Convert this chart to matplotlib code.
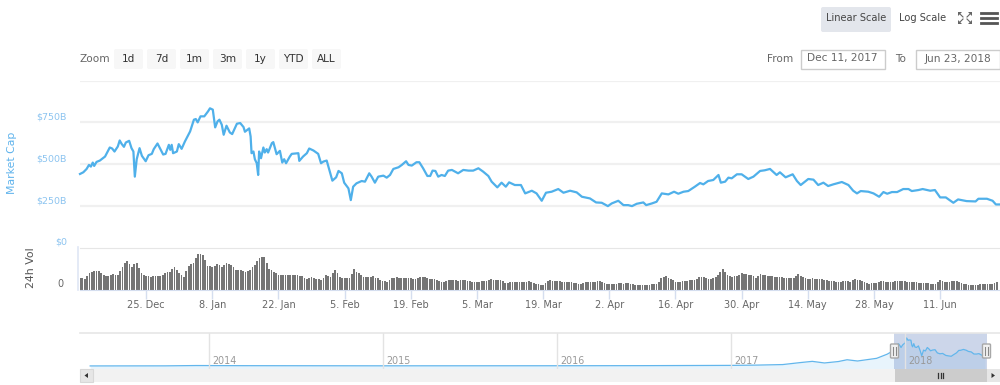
import numpy as np
import matplotlib
matplotlib.use("Agg")
import matplotlib.pyplot as plt
from matplotlib.patches import FancyBboxPatch, Rectangle, Polygon

W, H = 1000, 385

# market cap, $B, day = days since 11 Dec 2017
mcap_day = [0, .7, 1.4, 1.9, 2.3, 2.7, 3.0, 3.5, 4.2, 5.3, 6.3, 6.8, 7.3, 8.0, 8.4, 8.8, 9.3, 9.7, 10.4, 10.9,
            11.3, 11.6, 12.0, 12.6, 13.1, 13.9, 14.5, 15.2, 15.6, 16.4, 17.1, 17.6, 18.1, 18.8, 19.1, 19.4, 19.7,
            20.5, 20.9, 21.5, 22.2, 23.3, 24.1, 24.5, 24.9, 25.5, 26.3, 27.1, 27.5, 28.1, 28.6, 29.1, 29.5, 30.0,
            30.4, 31.0, 31.7, 32.2, 33.2, 33.9, 34.6, 34.9, 35.8, 36.1, 36.3, 36.7, 37.0, 37.4, 37.7, 37.9, 38.3,
            38.8, 39.1, 39.5, 39.8, 40.6, 40.9, 41.6, 42.3, 42.8, 43.2, 43.6, 44.4, 44.8, 46.2, 46.4, 47.2, 48.0,
            48.5, 49.4, 50.4, 51.0, 51.5, 52.2, 53.4, 54.2, 54.7, 55.4, 55.9, 56.8, 57.3, 57.8, 58.5, 59.6, 60.3,
            61.2, 61.7, 62.4, 63.1, 64.2, 64.9, 65.6, 66.3, 67.4, 68.1, 69.0, 69.5, 70.2, 71.2, 71.8, 72.6, 73.5,
            74.1, 74.6, 75.2, 75.8, 76.5, 77.2, 77.9, 78.7, 80.0, 81.1, 82.2, 83.2, 84.3, 85.3, 86.4, 87.1, 88.3,
            89.2, 90.1, 90.8, 92.0, 93.3, 94.2, 95.6, 96.6, 97.7, 98.6, 99.8, 101.2, 102.3, 103.7, 105.1, 106.2,
            107.9, 109.2, 110.4, 111.7, 112.5, 113.9, 115.0, 116.0, 116.8, 117.8, 119.2, 119.8, 121.0, 122.0,
            123.1, 124.5, 125.7, 126.6, 127.7, 128.7, 130.1, 131.2, 131.9, 132.9, 134.0, 135.1, 135.6, 136.5,
            137.2, 137.9, 139.0, 140.0, 141.4, 142.5, 143.9, 144.9, 146.0, 147.4, 148.1, 149.3, 150.8, 151.7,
            152.5, 153.2, 154.1, 155.2, 156.2, 157.3, 158.3, 159.4, 161.2, 162.6, 163.6, 164.4, 165.2, 166.8,
            167.9, 169.1, 170.0, 170.8, 171.8, 172.9, 174.2, 175.3, 176.0, 177.4, 178.3, 179.9, 180.9, 182.0,
            183.2, 184.8, 185.8, 187.6, 189.5, 190.1, 191.9, 193.1, 193.8, 194.5]
mcap_val = [442, 452, 472, 496, 486, 510, 490, 514, 522, 546, 600, 594, 576, 606, 642, 622, 604, 630, 640, 596,
            576, 426, 530, 596, 550, 518, 554, 562, 590, 624, 586, 558, 562, 616, 586, 616, 566,
            576, 620, 592, 636, 696, 766, 770, 750, 786, 786, 816, 834, 826, 720, 756, 766, 736,
            676, 730, 690, 680, 742, 746, 722, 694, 714, 666, 566, 576, 530, 506, 436, 576, 536,
            600, 570, 590, 570, 626, 632, 560, 580, 510, 530, 506, 546, 562, 566, 520, 546, 566,
            594, 582, 562, 506, 516, 522, 402, 422, 460, 446, 390, 356, 286, 366, 386, 400, 396,
            446, 426, 390, 426, 432, 420, 436, 472, 482, 496, 518, 496, 492, 512, 512, 476, 430,
            430, 462, 460, 426, 436, 430, 462, 466, 446, 466, 462, 462, 476, 456, 430, 396, 362,
            390, 366, 392, 376, 376, 326, 342, 326, 282, 330, 336, 352, 330, 342, 332, 306,
            296, 272, 270, 250, 266, 282, 256, 256, 250, 264, 272, 256, 266, 276,
            326, 320, 336, 324, 336, 340, 366, 388, 380, 400, 406, 436, 390, 396,
            420, 416, 440, 440, 412, 426, 460, 464, 472, 436, 452, 422, 440, 400,
            376, 392, 412, 408, 376, 390, 370, 380, 394, 376, 342, 326, 340, 336,
            326, 306, 334, 324, 334, 334, 352, 352, 340, 346, 352, 342, 346, 302,
            302, 270, 290, 280, 278, 294, 294, 282, 260, 260]

# 24h volume, $B, read every half day
volume = [20.7, 19.5, 18.5, 23, 28, 31, 32, 32, 32, 28, 25, 24, 23.5, 25, 27, 26, 25, 32, 39, 45, 49, 44, 39, 43,
          46, 37, 29, 26, 23.5, 23, 22.4, 23, 24, 24, 23.5, 26, 28, 30, 31, 35, 38, 33, 28, 25, 22.4, 32, 41, 44,
          45, 54, 60, 60, 58, 50, 41, 40, 39, 41, 44, 42, 39, 42, 46, 44, 42, 38, 34, 34, 34, 32, 30, 32, 34, 38,
          42, 48, 53, 55, 55, 46, 36, 33, 31, 28, 26, 25, 25, 25, 26, 26, 26, 25, 25, 24, 24, 21, 18, 20, 22, 20,
          18.5, 18, 17, 21, 26, 24, 22, 28, 33.6, 28, 22.4, 21, 19.6, 20, 19.6, 27, 34.7, 31, 28, 25, 22.4, 22,
          21.3, 22, 23.5, 21, 19.6, 17, 15.1, 14.5, 14, 17, 19.6, 21, 22.4, 21, 19.6, 20, 19.6, 20, 20.7, 19,
          17.9, 20, 21.3, 21.5, 21.8, 20, 18.5, 18, 17.9, 16.5, 15.1, 14, 12.9, 15, 16.8, 16.5, 16.2, 16, 15.7, 16,
          16.8, 16, 15.7, 15, 14, 13.5, 12.9, 14, 15.1, 15, 15.1, 16.5, 17.9, 17, 16.8, 17, 16.8, 14.5, 12.3, 12.5,
          12.9, 13, 12.9, 13, 12.9, 13, 12.9, 14, 15.1, 13, 11.2, 10, 9.5, 9, 9, 12, 15.7, 16, 15.7, 15.5,
          15.1, 14.5, 14, 13.5, 12.9, 13.5, 14, 12.5, 11.2, 10.5, 10.1, 11.5, 12.9, 13, 12.9, 13.5, 14, 14.5, 15.1, 13,
          11.2, 10, 9.5, 9.5, 9.5, 10.5, 11.2, 11, 10.6, 11, 11.2, 10, 9.5, 9, 8.4, 8, 7.8, 8, 8.4, 9,
          9.5, 9.5, 9.5, 14, 19.6, 22, 23.5, 21, 18.5, 16, 14, 14, 14, 14.5, 15.1, 15.5, 16.2, 16.5, 16.8, 19,
          21.3, 21.3, 21.3, 19.5, 17.9, 19, 19.6, 22, 25.2, 30, 34.7, 30, 25.2, 24, 22.4, 23, 23.5, 26, 28, 27,
          26.3, 26, 25.2, 23, 20.7, 24, 26.9, 26, 25.2, 24, 23.5, 23, 22.4, 22.4, 22.4, 21.5, 20.7, 20.7, 20.7, 20,
          19.6, 23, 26.3, 24, 22.4, 20, 18.5, 19, 19.6, 19, 18.5, 18, 17.9, 17, 16.2, 15.5, 15.1, 14.5, 14, 14,
          14, 14.5, 15.1, 14.5, 14, 16, 17.9, 17, 16.8, 15, 12.9, 11.5, 10.6, 11, 11.2, 12.5, 14, 14.5, 15.1, 14,
          12.9, 13.5, 14, 14.5, 15.1, 15, 15.1, 14.5, 14, 13.5, 12.9, 12.9, 12.9, 12, 11.2, 11.2, 11.2, 11, 10.6, 10,
          9.5, 13, 16.8, 15, 12.9, 13.5, 14, 14.5, 15.1, 14.5, 14, 12, 10.6, 9.5, 8.4, 8, 7.8, 8, 8.4, 9.5,
          10.6, 10.6, 10.6, 10, 9.5, 11, 12.9]

tick_days = [14, 28, 42, 56, 70, 84, 98, 112, 126, 140, 154, 168, 182]
tick_labels = ["25. Dec", "8. Jan", "22. Jan", "5. Feb", "19. Feb", "5. Mar", "19. Mar", "2. Apr",
               "16. Apr", "30. Apr", "14. May", "28. May", "11. Jun"]
cap_ticks = [250, 500, 750]
cap_tick_labels = ["$250B", "$500B", "$750B"]

# navigator history before the selected range
hist_year = [2013.32, 2013.75, 2013.93, 2014.2, 2015.0, 2016.0, 2016.5, 2017.0, 2017.15, 2017.3, 2017.4, 2017.47,
             2017.54, 2017.62, 2017.67, 2017.73, 2017.84, 2017.9, 2017.94]
hist_val = [2, 4, 13, 9, 5, 7, 10, 17, 25, 40, 95, 130, 85, 125, 175, 140, 215, 330, 440]
nav_years = [2014, 2015, 2016, 2017, 2018]

zoom_labels = ["1d", "7d", "1m", "3m", "1y", "YTD", "ALL"]

BLUE = "#4fb0ea"
LABEL_BLUE = "#8cc4f0"
GRID = "#f0f0f0"
TXT = "#666666"
FS = 7.6
TICK_FS = 7.0

plt.rcParams["font.family"] = ["DejaVu Sans"]
fig = plt.figure(figsize=(W / 100, H / 100), dpi=100, facecolor="white")


def px_axes(left, top, right, bottom):
    ax = fig.add_axes([left / W, 1 - bottom / H, (right - left) / W, (bottom - top) / H])
    ax.patch.set_alpha(0)
    for s in ax.spines.values():
        s.set_visible(False)
    return ax


# page furniture, in pixels
ui = px_axes(0, 0, W, H)
ui.set_xlim(0, W)
ui.set_ylim(H, 0)
ui.axis("off")


def button(x0, y0, x1, y1, fc, ec="none"):
    ui.add_patch(FancyBboxPatch((x0 + 2, y0 + 2), x1 - x0 - 4, y1 - y0 - 4, boxstyle="round,pad=2",
                                fc=fc, ec=ec, lw=0))


button(821, 7, 891, 32, "#e3e6ec")
ui.text(856, 18, "Linear Scale", ha="center", va="center", fontsize=7.1, color="#444444")
ui.text(922.5, 18, "Log Scale", ha="center", va="center", fontsize=7.1, color="#444444")

# fullscreen icon
for cx, cy, sx, sy in [(958, 12, 1, 1), (972, 12, -1, 1), (958, 24, 1, -1), (972, 24, -1, -1)]:
    ui.add_patch(Polygon([(cx, cy), (cx + 4 * sx, cy), (cx, cy + 4 * sy)], fc="#666666", ec="none"))
    ui.plot([cx + sx, cx + 5 * sx], [cy + sy, cy + 5 * sy], color="#666666", lw=0.8)
for y in [12.5, 17.5, 22.5]:
    ui.plot([981, 997], [y, y], color="#555555", lw=2)

ui.text(80, 59, "Zoom", ha="left", va="center", fontsize=FS, color=TXT)
for i, lab in enumerate(zoom_labels):
    x0 = 114 + 33 * i
    button(x0, 49, x0 + 29, 69, "#f7f7f7")
    ui.text(x0 + 14.5, 58.5, lab, ha="center", va="center", fontsize=FS, color="#333333")

ui.text(767, 58.5, "From", ha="left", va="center", fontsize=FS, color=TXT)
ui.text(895, 58.5, "To", ha="left", va="center", fontsize=FS, color=TXT)
for x0, x1, lab in [(800.5, 884.5, "Dec 11, 2017"), (915.5, 999.5, "Jun 23, 2018")]:
    ui.add_patch(Rectangle((x0, 49.5), x1 - x0, 19, fc="white", ec="#cccccc", lw=1))
    ui.text((x0 + x1) / 2, 58.5, lab, ha="center", va="center", fontsize=FS, color=TXT)

ui.text(12, 163, "Market Cap", rotation=90, ha="center", va="center", fontsize=7.8, color="#5fb3ec")
ui.text(31, 268, "24h Vol", rotation=90, ha="center", va="center", fontsize=7.9, color="#555555")

# main pane
ax = px_axes(80, 80.5, W, 248)
xlim = (0, 920 / 4.726)
ax.set_xlim(*xlim)
ax.set_ylim(0, 1000)
ax.set_xticks([])
ax.set_yticks(cap_ticks + [1000])
ax.set_yticklabels([])
ax.tick_params(length=0)
ax.grid(axis="y", color=GRID, lw=1.6)
ax.set_axisbelow(True)
ax.plot(mcap_day, mcap_val, color=BLUE, lw=1.6, solid_joinstyle="round", clip_on=False)
for v, lab in zip(cap_ticks, cap_tick_labels):
    ax.annotate(lab, (0, v), xycoords=("axes fraction", "data"), xytext=(-13, 1), textcoords="offset pixels",
                ha="right", va="bottom", fontsize=6.8, color=LABEL_BLUE)
ui.text(67, 242.5, "$0", ha="right", va="center", fontsize=6.8, color=LABEL_BLUE)

# volume pane
vx = px_axes(80, 248, W, 290)
days = np.arange(len(volume)) * 0.5
vx.bar(days, volume, width=0.37, color="#757575", linewidth=0)
vx.set_xlim(*xlim)
vx.set_ylim(0, 70.6)
vx.set_yticks([])
vx.set_xticks(tick_days)
vx.set_xticklabels(tick_labels, fontsize=TICK_FS, color=TXT)
vx.tick_params(axis="x", length=6.5, width=1, color="#d5deef", pad=0.5)
vx.spines["bottom"].set_visible(True)
vx.spines["bottom"].set_color("#d5deef")
vx.spines["top"].set_visible(True)
vx.spines["top"].set_color("#e6e6e6")
ui.plot([78, 78], [247, 290], color="#dfe6f5", lw=1.2)
ui.text(64, 284, "0", ha="right", va="center", fontsize=TICK_FS, color=TXT)

# navigator
nx = px_axes(80, 333, W, 369)
to_year = lambda d: 2017.942 + np.asarray(d) / 365.0
nav_x = np.concatenate([hist_year, to_year(mcap_day[::5])])
nav_y = np.concatenate([hist_val, mcap_val[::5]])
nx.set_xlim(2018 + (80 - 904.5) / 174, 2018 + (1000 - 904.5) / 174)
nx.set_ylim(-84, 924)
nx.fill_between(nav_x, nav_y, -84, color="#e8f4fc", lw=0)
nx.plot(nav_x, nav_y, color="#62b6ec", lw=0.9)
for yr in nav_years:
    nx.axvline(yr, color="#e3e3e3", lw=1)
    nx.annotate(str(yr), (yr, 0), xycoords=("data", "axes fraction"), xytext=(4, 3), textcoords="offset pixels",
                ha="left", va="bottom", fontsize=6.9, color="#999999")
sel0, sel1 = to_year(0), to_year(194)
nx.axvspan(sel0, sel1, color="#6685c2", alpha=0.33, lw=0)
nx.set_xticks([])
nx.set_yticks([])
ui.plot([80, 1000], [333, 333], color="#e6e6e6", lw=1.2)

# scrollbar and handles
ui.add_patch(Rectangle((80, 369), 920, 13, fc="#f2f2f2", ec="none"))
ui.add_patch(Rectangle((80, 369), 13, 13, fc="#e6e6e6", ec="#d8d8d8", lw=0.8))
ui.add_patch(Rectangle((987, 369), 13, 13, fc="#e6e6e6", ec="none"))
ui.add_patch(Polygon([(88, 373), (88, 378), (84.5, 375.5)], fc="#333333"))
ui.add_patch(Polygon([(991.5, 373), (991.5, 378), (995, 375.5)], fc="#333333"))
ui.add_patch(Rectangle((894.5, 369), 92.5, 13, fc="#cccccc", ec="none"))
for x in [938, 940.5, 943]:
    ui.plot([x, x], [373, 378], color="#333333", lw=0.9)
for x in [894.5, 986.5]:
    ui.add_patch(FancyBboxPatch((x - 3, 345), 6, 12, boxstyle="round,pad=1", fc="#f2f2f2", ec="#a8a8a8", lw=1))
    ui.plot([x - 1.2, x - 1.2], [347, 355], color="#888888", lw=0.8)
    ui.plot([x + 1.2, x + 1.2], [347, 355], color="#888888", lw=0.8)

ui.set_zorder(5)
fig.savefig("out.png", dpi=100)
